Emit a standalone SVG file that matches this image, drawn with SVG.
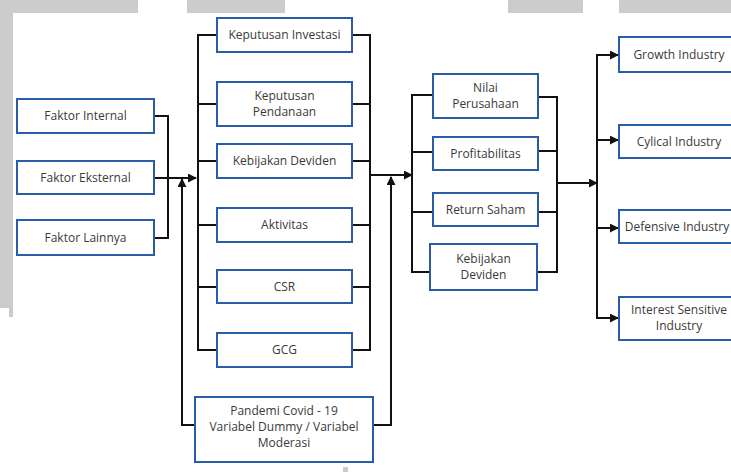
<svg xmlns="http://www.w3.org/2000/svg" width="731" height="472" viewBox="0 0 731 472">
<style>
.bg{fill:#cccccc}
.box{fill:#ffffff;stroke:#2b5ca8;stroke-width:2}
.t{font-family:"Open Sans","Noto Sans",sans-serif;font-size:12px;fill:#3a3a3a;text-anchor:middle}
.c{fill:none;stroke:#111111;stroke-width:2}
</style>
<defs>
<marker id="ah" viewBox="0 0 10 10" refX="9" refY="5" markerWidth="4.5" markerHeight="4.5" orient="auto" markerUnits="strokeWidth">
<path d="M0,0 L10,5 L0,10 z" fill="#111111"/>
</marker>
</defs>
<rect width="731" height="472" fill="#ffffff"/>
<g id="background">
<rect class="bg" x="0" y="0" width="138" height="13"/>
<rect class="bg" x="0" y="0" width="13" height="308"/>
<rect class="bg" x="9" y="308" width="4" height="9"/>
<rect class="bg" x="187" y="0" width="98" height="13"/>
<rect class="bg" x="508" y="0" width="75" height="13"/>
<rect class="bg" x="619" y="0" width="112" height="13"/>
<rect class="bg" x="343" y="467" width="5" height="5"/>
</g>
<g id="connectors">
<path class="c" d="M154,116 H168 V238 H154"/>
<path class="c" d="M154,178 H196" marker-end="url(#ah)"/>
<path class="c" d="M195,425 H182 V179" marker-end="url(#ah)"/>
<path class="c" d="M217,35 H198 V350 H217 M198,104 H217 M198,161 H217 M198,225 H217 M198,287 H217"/>
<path class="c" d="M352,35 H370 V350 H352 M352,104 H370 M352,161 H370 M352,225 H370 M352,287 H370"/>
<path class="c" d="M370,175 H412" marker-end="url(#ah)"/>
<path class="c" d="M373,425 H391 V177" marker-end="url(#ah)"/>
<path class="c" d="M433,95 H412 V272 H430 M412,152 H433 M412,212 H433"/>
<path class="c" d="M538,97 H557 V272 H537 M538,151 H557 M538,212 H557"/>
<path class="c" d="M557,183 H597" marker-end="url(#ah)"/>
<path class="c" d="M618,55 H597 V318 H617 M597,140 H617 M597,228 H617" />
<path class="c" d="M605,55 H618" marker-end="url(#ah)"/>
<path class="c" d="M605,140 H618" marker-end="url(#ah)"/>
<path class="c" d="M605,228 H618" marker-end="url(#ah)"/>
<path class="c" d="M605,318 H618" marker-end="url(#ah)"/>
</g>
<g id="faktor-internal"><rect class="box" x="17" y="99" width="137" height="34"/><text class="t" x="85.5" y="120">Faktor Internal</text></g>
<g id="faktor-eksternal"><rect class="box" x="17" y="161" width="137" height="33"/><text class="t" x="85.5" y="181.5">Faktor Eksternal</text></g>
<g id="faktor-lainnya"><rect class="box" x="17" y="220" width="137" height="35"/><text class="t" x="85.5" y="241.5">Faktor Lainnya</text></g>
<g id="keputusan-investasi"><rect class="box" x="217" y="18" width="135" height="34"/><text class="t" x="284.5" y="39">Keputusan Investasi</text></g>
<g id="keputusan-pendanaan"><rect class="box" x="217" y="82" width="135" height="44"/><text class="t" x="284.5" y="100">Keputusan</text><text class="t" x="284.5" y="116">Pendanaan</text></g>
<g id="kebijakan-deviden-1"><rect class="box" x="217" y="144" width="135" height="34"/><text class="t" x="284.5" y="165">Kebijakan Deviden</text></g>
<g id="aktivitas"><rect class="box" x="217" y="208" width="135" height="34"/><text class="t" x="284.5" y="229">Aktivitas</text></g>
<g id="csr"><rect class="box" x="217" y="270" width="135" height="33"/><text class="t" x="284.5" y="290.5">CSR</text></g>
<g id="gcg"><rect class="box" x="217" y="333" width="135" height="34"/><text class="t" x="284.5" y="354">GCG</text></g>
<g id="pandemi"><rect class="box" x="195" y="397" width="178" height="65"/><text class="t" x="284" y="415">Pandemi Covid - 19</text><text class="t" x="284" y="431">Variabel Dummy / Variabel</text><text class="t" x="284" y="447">Moderasi</text></g>
<g id="nilai-perusahaan"><rect class="box" x="433" y="74" width="105" height="44"/><text class="t" x="485.5" y="92">Nilai</text><text class="t" x="485.5" y="108">Perusahaan</text></g>
<g id="profitabilitas"><rect class="box" x="433" y="137" width="105" height="33"/><text class="t" x="485.5" y="157.5">Profitabilitas</text></g>
<g id="return-saham"><rect class="box" x="433" y="193" width="105" height="33"/><text class="t" x="485.5" y="213.5">Return Saham</text></g>
<g id="kebijakan-deviden-2"><rect class="box" x="430" y="244" width="107" height="46"/><text class="t" x="483.5" y="263">Kebijakan</text><text class="t" x="483.5" y="279">Deviden</text></g>
<g id="growth"><rect class="box" x="619" y="37" width="122" height="35"/><text class="t" x="679" y="58.5">Growth Industry</text></g>
<g id="cylical"><rect class="box" x="619" y="125" width="122" height="33"/><text class="t" x="679" y="145.5">Cylical Industry</text></g>
<g id="defensive"><rect class="box" x="619" y="210" width="122" height="33"/><text class="t" x="677" y="230.5">Defensive Industry</text></g>
<g id="interest"><rect class="box" x="619" y="297" width="122" height="43"/><text class="t" x="679" y="314">Interest Sensitive</text><text class="t" x="679" y="330">Industry</text></g>
</svg>
